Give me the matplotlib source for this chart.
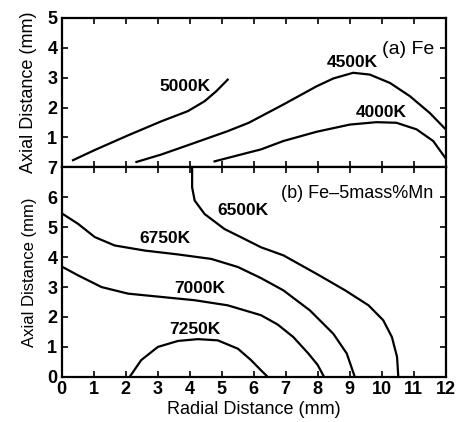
import numpy as np
import matplotlib
matplotlib.use('Agg')
import matplotlib.pyplot as plt

plt.rcParams['font.family'] = ['Liberation Sans', 'DejaVu Sans']

# (a) Fe  - isotherms, radial distance (mm) vs axial distance (mm)
x_5000 = [0.36, 1.04, 2.08, 3.12, 3.95, 4.47, 4.83, 5.19]
y_5000 = [0.24, 0.58, 1.07, 1.54, 1.88, 2.21, 2.54, 2.93]
x_4500 = [2.34, 3.12, 4.16, 5.19, 5.85, 6.93, 7.97, 8.49, 9.11, 9.63, 10.26, 10.88, 11.5, 12.0]
y_4500 = [0.18, 0.43, 0.82, 1.21, 1.49, 2.1, 2.71, 2.97, 3.16, 3.1, 2.82, 2.38, 1.82, 1.27]
x_4000 = [4.78, 5.61, 6.23, 6.93, 7.97, 9.01, 9.84, 10.46, 11.09, 11.61, 12.0]
y_4000 = [0.2, 0.43, 0.6, 0.88, 1.19, 1.43, 1.51, 1.49, 1.27, 0.88, 0.3]

# (b) Fe-5mass%Mn
x_6500 = [4.08, 4.08, 4.16, 4.47, 5.09, 5.71, 6.23, 6.93, 7.97, 8.86, 9.59, 10.05, 10.32, 10.48, 10.52]
y_6500 = [7.0, 6.33, 5.89, 5.44, 4.94, 4.61, 4.33, 4.06, 3.44, 2.89, 2.39, 1.89, 1.33, 0.67, 0.0]
x_6750 = [0.0, 0.52, 1.04, 1.66, 2.6, 3.64, 4.68, 5.51, 6.23, 6.93, 7.76, 8.49, 8.91, 9.16]
y_6750 = [5.47, 5.11, 4.67, 4.39, 4.22, 4.09, 3.94, 3.67, 3.3, 2.89, 2.22, 1.44, 0.78, 0.0]
x_7000 = [0.0, 0.52, 1.25, 2.08, 3.12, 4.16, 5.19, 6.23, 6.75, 7.24, 7.71, 8.0, 8.2]
y_7000 = [3.69, 3.39, 3.0, 2.78, 2.67, 2.56, 2.39, 2.06, 1.75, 1.33, 0.78, 0.4, 0.0]
x_7250 = [2.13, 2.49, 3.01, 3.64, 4.26, 4.88, 5.51, 5.92, 6.23, 6.44]
y_7250 = [0.0, 0.56, 1.0, 1.2, 1.26, 1.22, 0.94, 0.56, 0.22, 0.0]

fig = plt.figure(figsize=(4.59, 4.22), dpi=100)
gs = fig.add_gridspec(2, 1, height_ratios=[5, 7], hspace=0,
                      left=0.134, right=0.971, top=0.958, bottom=0.107)
axa = fig.add_subplot(gs[0])
axb = fig.add_subplot(gs[1], sharex=axa)

lw = 1.6
for xs, ys in [(x_5000, y_5000), (x_4500, y_4500), (x_4000, y_4000)]:
    axa.plot(xs, ys, color='black', lw=lw, solid_joinstyle='round')
for xs, ys in [(x_6500, y_6500), (x_6750, y_6750), (x_7000, y_7000), (x_7250, y_7250)]:
    axb.plot(xs, ys, color='black', lw=lw, solid_joinstyle='round')

lab = dict(fontsize=12.5, fontweight='bold', ha='center', va='center')
axa.text(3.86, 2.7, '5000K', **lab)
axa.text(9.07, 3.5, '4500K', **lab)
axa.text(10.0, 1.83, '4000K', **lab)
axa.text(11.65, 3.93, '(a) Fe', fontsize=14, ha='right', va='center')

axb.text(5.66, 5.57, '6500K', **lab)
axb.text(3.23, 4.62, '6750K', **lab)
axb.text(4.32, 2.96, '7000K', **lab)
axb.text(4.16, 1.57, '7250K', **lab)
axb.text(11.6, 6.12, '(b) Fe\u20135mass%Mn', fontsize=13, ha='right', va='center')

axa.set_xlim(0, 12)
axa.set_ylim(0, 5)
axb.set_ylim(0, 7)
axa.set_yticks([0, 1, 2, 3, 4, 5])
axa.set_yticklabels(['', '1', '2', '3', '4', '5'])
axb.set_yticks(range(8))
axb.set_xticks(range(13))

for ax in (axa, axb):
    ax.tick_params(direction='in', top=True, right=True, length=4, width=1.2,
                   labelsize=13, pad=3)
    for lbl in ax.get_xticklabels() + ax.get_yticklabels():
        lbl.set_fontweight('bold')
    for s in ax.spines.values():
        s.set_linewidth(1.6)
axa.set_ylabel('Axial Distance (mm)', fontsize=13, labelpad=7)
axb.set_ylabel('Axial Distance (mm)', fontsize=12, labelpad=7)
plt.setp(axa.get_xticklabels(), visible=False)
axb.set_xlabel('Radial Distance (mm)', fontsize=13, labelpad=2)
fig.align_ylabels([axa, axb])

fig.savefig('out.png', dpi=100)
